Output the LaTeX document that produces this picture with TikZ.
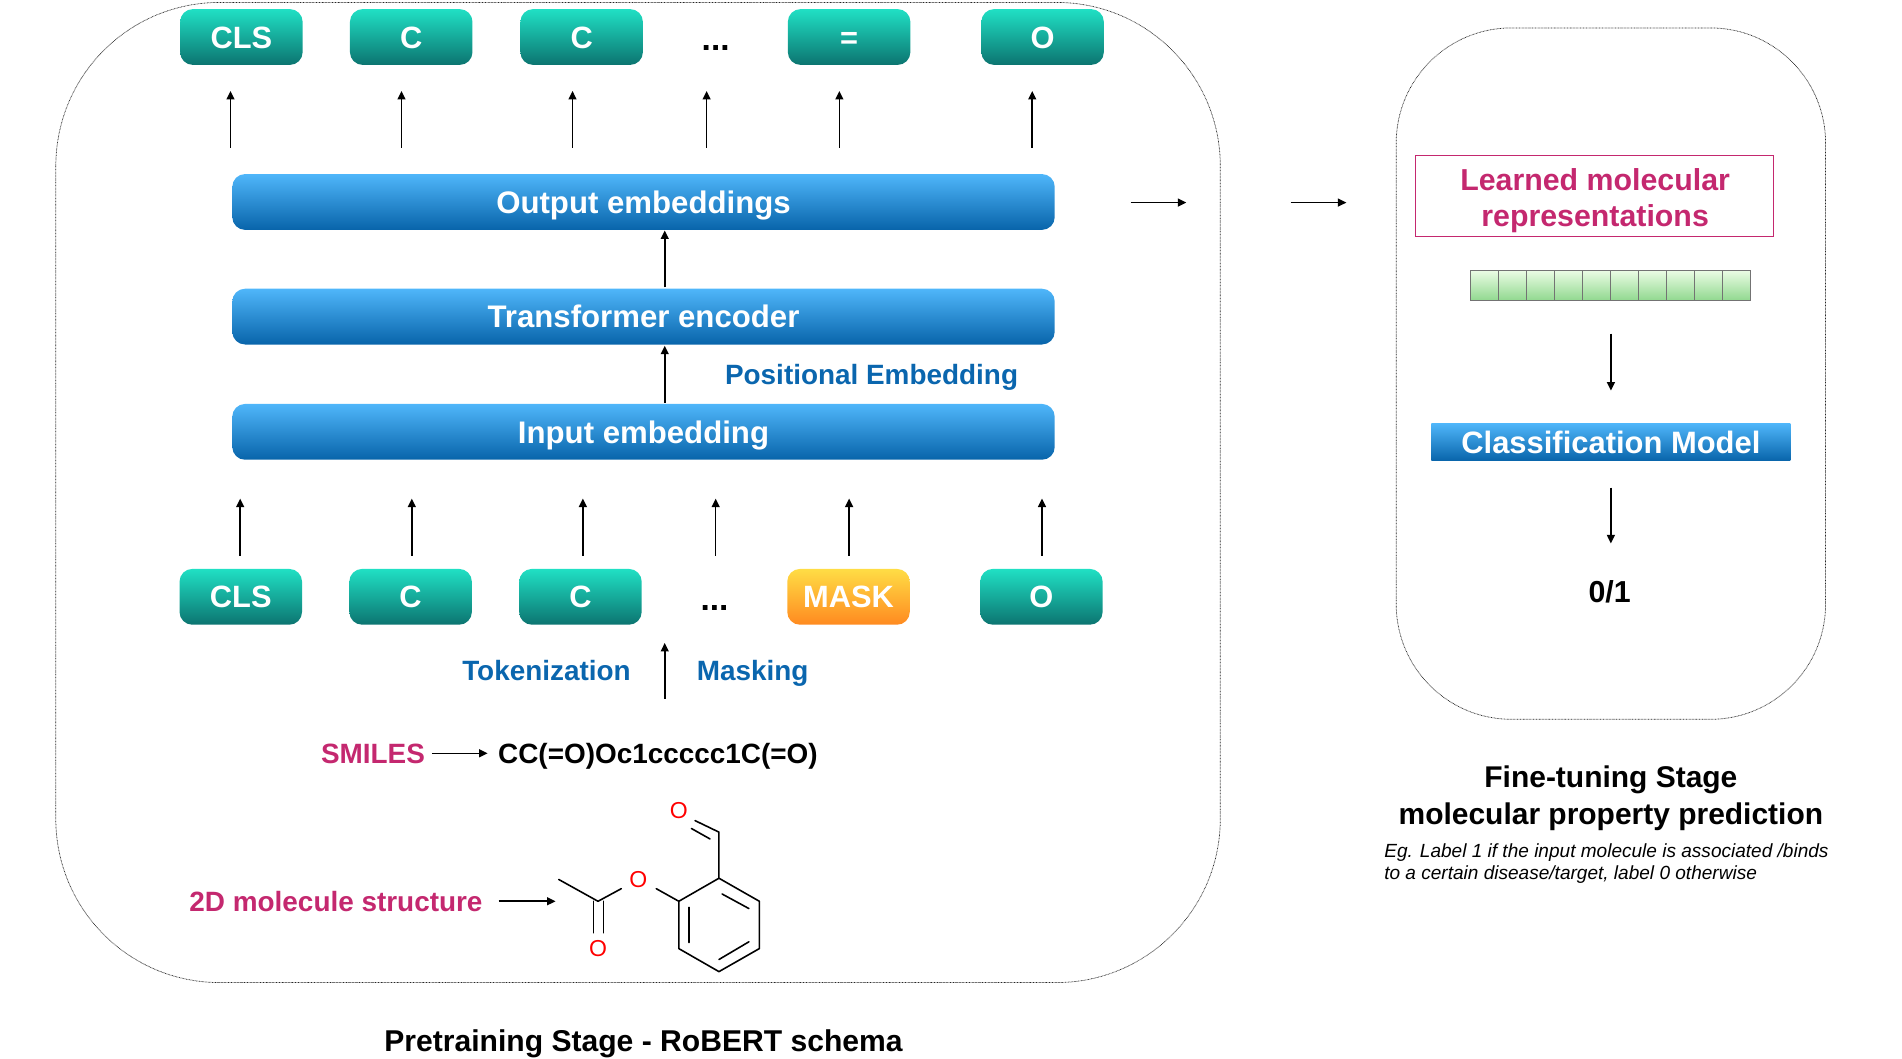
\documentclass[tikz,border=0pt]{standalone}
\usepackage{fontspec}
\setmainfont{Liberation Sans}
\usetikzlibrary{arrows.meta,calc}
\definecolor{mag}{HTML}{C4286F}
\definecolor{bluetxt}{HTML}{0A66AE}
\definecolor{tealtop}{HTML}{20E0C4}
\definecolor{tealbot}{HTML}{0C7470}
\definecolor{orngtop}{HTML}{FFDD45}
\definecolor{orngbot}{HTML}{FF8A20}
\definecolor{bluetop}{HTML}{4FB6FA}
\definecolor{bluebot}{HTML}{0864AA}
\definecolor{greentop}{HTML}{EAFCE4}
\definecolor{greenbot}{HTML}{90D88E}
\tikzset{
  arr/.style={draw=black,line width=1.3pt,-{Triangle[length=7pt,width=6.5pt]}},
  frame/.style={draw=black!85,line width=0.6pt,dash pattern=on 0.6pt off 0.6pt,rounded corners=#1},
  cap/.style={text height=0.716*#1 pt,text depth=0pt,font=\fontsize{#1}{#1}\selectfont\bfseries},
  tokenbase/.style={rounded corners=10.5pt,inner sep=0pt,minimum width=101pt,minimum height=46pt,text=white,cap=25.4},
  teal/.style={tokenbase,top color=tealtop,bottom color=tealbot},
  orng/.style={tokenbase,top color=orngtop,bottom color=orngbot},
  bar/.style={rounded corners=10.5pt,inner sep=0pt,minimum width=678pt,minimum height=46pt,top color=bluetop,bottom color=bluebot,text=white,cap=25.7},
  lab/.style={inner sep=0pt,cap=23,text=#1},
  dots/.style={inner sep=0pt,cap=27.6},
  bond/.style={draw=black,line width=1.3pt,line cap=round,line join=round},
  oatom/.style={inner sep=0pt,text=red,font=\fontsize{19}{22}\selectfont},
}
\begin{document}
\begin{tikzpicture}[x=1pt,y=-1pt]
\useasboundingbox (0,0) rectangle (1568,873);
% frames
\coordinate (fa) at (46,2); \coordinate (fb) at (1006,810);
\draw[frame=135pt] (fa) rectangle (fb);
\coordinate (ga) at (1151,23); \coordinate (gb) at (1505,593);
\draw[frame=95pt] (ga) rectangle (gb);
% top tokens
\node[teal] (t1) at (199,30.5) {CLS};
\node[teal] (t2) at (339,30.5) {C};
\node[teal] (t3) at (479.5,30.5) {C};
\node[dots] (t4) at (590,32) {...};
\node[teal] (t5) at (700,30.5) {=};
\node[teal] (t6) at (859.5,30.5) {O};
% bars
\node[bar] (out) at (530.5,166.5) {Output embeddings};
\node[bar] (enc) at (530.5,261) {Transformer encoder};
\node[bar] (inp) at (530.5,356) {Input embedding};
% bottom tokens
\node[teal] (b1) at (198.5,492) {CLS};
\node[teal] (b2) at (338.5,492) {C};
\node[teal] (b3) at (478.5,492) {C};
\node[dots] (b4) at (589,493) {...};
\node[orng] (b5) at (699.5,492) {MASK};
\node[teal] (b6) at (858.5,492) {O};
% vertical arrows
\foreach \i/\x in {1/190,2/331,3/472,4/582.5,5/692,6/851}{
  \coordinate (us\i) at (\x,122); \coordinate (ue\i) at (\x,75);
  \draw[arr] (us\i) -- (ue\i);
}
\foreach \i/\x in {1/198,2/339.5,3/480.5,4/590,5/700,6/859}{
  \coordinate (ds\i) at (\x,458); \coordinate (de\i) at (\x,411);
  \draw[arr] (ds\i) -- (de\i);
}
\coordinate (m1s) at (548,237); \coordinate (m1e) at (548,190);
\draw[arr] (m1s) -- (m1e);
\coordinate (m2s) at (548,332); \coordinate (m2e) at (548,285);
\draw[arr] (m2s) -- (m2e);
\coordinate (m3s) at (548,576); \coordinate (m3e) at (548,530);
\draw[arr] (m3s) -- (m3e);
% labels
\node[lab=bluetxt] (pos) at (718.5,309) {Positional Embedding};
\node[lab=bluetxt] (tok) at (450.5,553) {Tokenization};
\node[lab=bluetxt] (msk) at (620.5,553) {Masking};
\node[lab=mag] (smi) at (307.5,621) {SMILES};
\node[lab=black,anchor=west] (ccs) at (410.5,621) {CC(=O)Oc1ccccc1C(=O)};
\coordinate (sa) at (356,621); \coordinate (sb) at (402,621);
\draw[arr] (sa) -- (sb);
\node[lab=mag] (twod) at (277,743) {2D molecule structure};
\coordinate (ta) at (411,743); \coordinate (tb) at (458,743);
\draw[arr] (ta) -- (tb);
% molecule
\draw[bond] (460.6,725) -- (493,743) -- (512.2,732.6);
\draw[bond] (489.4,743) -- (489.4,769);
\draw[bond] (497.5,743) -- (497.5,769);
\node[oatom] (o1) at (493,782) {O};
\node[oatom] (o2) at (526.3,725) {O};
\node[oatom] (o3) at (559.6,668) {O};
\draw[bond] (541,732.6) -- (559.6,743);
\draw[bond] (559.6,743) -- (592.7,724) -- (626,743) -- (626,782) -- (592.7,801) -- (559.6,782) -- cycle;
\draw[bond] (595.3,737) -- (617.4,749);
\draw[bond] (592.7,791) -- (617.4,776.4);
\draw[bond] (568,748) -- (568,777);
\draw[bond] (592.7,724) -- (592.7,686) -- (573,676.5);
\draw[bond] (585.3,691.6) -- (570,683);
% title left
\node[inner sep=0pt,cap=24.8] (tl) at (530.5,858) {Pretraining Stage - RoBERT schema};
% horizontal arrows
\coordinate (ha) at (932,167); \coordinate (hb) at (978,167);
\draw[arr] (ha) -- (hb);
\coordinate (hc) at (1064,167); \coordinate (hd) at (1110,167);
\draw[arr] (hc) -- (hd);
% right
\node[draw=mag,line width=0.9pt,minimum width=295pt,minimum height=67pt,inner sep=0pt] (lm) at (1314.5,161.5) {};
\node[inner sep=0pt,align=center,text=mag,font=\fontsize{25}{30}\selectfont\bfseries] (lmt) at (1315,165.5) {Learned molecular\\representations};
\foreach \i in {0,...,9}{
  \node[draw=black!55,line width=0.7pt,top color=greentop,bottom color=greenbot,minimum width=23.1pt,minimum height=25pt,inner sep=0pt] (c\i) at ({1223.55+23.1*\i},235.5) {};
}
\coordinate (ra) at (1328,275); \coordinate (rb) at (1328,322);
\draw[arr] (ra) -- (rb);
\node[top color=bluetop,bottom color=bluebot,minimum width=296pt,minimum height=31pt,inner sep=0pt,text=white,cap=25.5] (cm) at (1328,364.5) {Classification Model};
\coordinate (rc) at (1328,402); \coordinate (rd) at (1328,448);
\draw[arr] (rc) -- (rd);
\node[inner sep=0pt,cap=25] (res) at (1327,488) {0/1};
\node[inner sep=0pt,align=center,font=\fontsize{24.7}{30.3}\selectfont\bfseries] (tr) at (1328,658) {Fine-tuning Stage\\molecular property prediction};
\node[inner sep=0pt,anchor=west,align=left,font=\fontsize{15.7}{18.5}\selectfont\itshape] (eg) at (1141,712) {Eg. Label 1 if the input molecule is associated /binds\\to a certain disease/target, label 0 otherwise};
\end{tikzpicture}
\end{document}
